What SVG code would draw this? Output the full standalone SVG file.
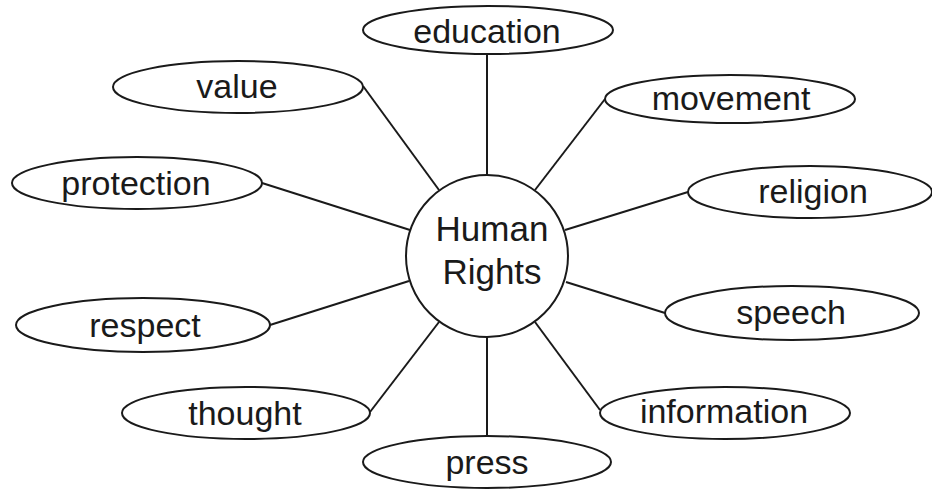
<svg xmlns="http://www.w3.org/2000/svg" width="932" height="490" viewBox="0 0 932 490">
<style>
.n{fill:#fff;stroke:#1a1a1a;stroke-width:2}
.c line{stroke:#1a1a1a;stroke-width:2}
text{font-family:"Liberation Sans",Arial,sans-serif;font-size:34px;fill:#1a1a1a;text-anchor:middle}
.big{font-size:35px}
</style>
<rect width="932" height="490" fill="#fff"/>
<g id="connectors" class="c">
<line x1="487" y1="54" x2="487" y2="175"/>
<line x1="363" y1="86" x2="439" y2="190"/>
<line x1="605" y1="99" x2="535" y2="190"/>
<line x1="262" y1="183" x2="410" y2="230"/>
<line x1="688" y1="192" x2="565" y2="230"/>
<line x1="270" y1="325" x2="409" y2="281"/>
<line x1="665" y1="313" x2="566" y2="282"/>
<line x1="370" y1="412" x2="439" y2="322"/>
<line x1="600" y1="410" x2="535" y2="322"/>
<line x1="487" y1="337" x2="487" y2="436"/>
</g>
<g id="center"><circle class="n" cx="487" cy="256" r="81"/><text class="big" x="492" y="241">Human</text><text class="big" x="492" y="284">Rights</text></g>
<g id="education"><ellipse class="n" cx="488" cy="30" rx="125" ry="24"/><text x="487" y="43">education</text></g>
<g id="value"><ellipse class="n" cx="238" cy="87" rx="125" ry="26"/><text x="237" y="98">value</text></g>
<g id="movement"><ellipse class="n" cx="730" cy="99" rx="125" ry="24"/><text x="731" y="110">movement</text></g>
<g id="protection"><ellipse class="n" cx="137" cy="183" rx="125" ry="26"/><text x="136" y="195">protection</text></g>
<g id="religion"><ellipse class="n" cx="810" cy="192" rx="122" ry="26"/><text x="813" y="203">religion</text></g>
<g id="respect"><ellipse class="n" cx="143" cy="325" rx="127" ry="27"/><text x="145" y="337">respect</text></g>
<g id="speech"><ellipse class="n" cx="792" cy="313" rx="127" ry="27"/><text x="791" y="324">speech</text></g>
<g id="thought"><ellipse class="n" cx="246" cy="413" rx="124" ry="26"/><text x="245" y="425">thought</text></g>
<g id="information"><ellipse class="n" cx="725" cy="413" rx="125" ry="26"/><text x="724" y="423">information</text></g>
<g id="press"><ellipse class="n" cx="487" cy="462" rx="124" ry="26"/><text x="487" y="474">press</text></g>
</svg>
